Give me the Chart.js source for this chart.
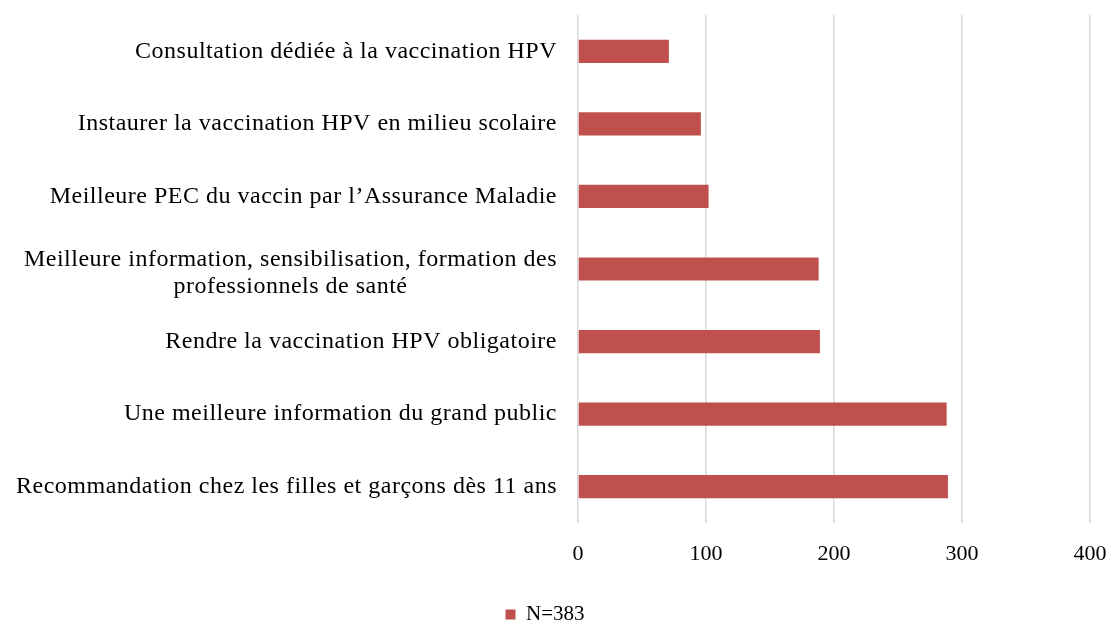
<!DOCTYPE html>
<html>
<head>
<meta charset="utf-8">
<script src="https://cdn.jsdelivr.net/npm/chart.js@4/dist/chart.umd.min.js"></script>
<style>
  html, body { margin: 0; padding: 0; background: #fff; }
  #wrap { width: 1113px; height: 626px; }
</style>
</head>
<body>
<div id="wrap"><canvas id="chart"></canvas></div>
<script>
// categories, top to bottom
const categories = [
    ['Consultation dédiée à la vaccination HPV'],
    ['Instaurer la vaccination HPV en milieu scolaire'],
    ['Meilleure PEC du vaccin par l\u2019Assurance Maladie'],
    ['Meilleure information, sensibilisation, formation des', 'professionnels de santé'],
    ['Rendre la vaccination HPV obligatoire'],
    ['Une meilleure information du grand public'],
    ['Recommandation chez les filles et garçons dès 11 ans']
];
const values = [71, 96, 102, 188, 189, 288, 289];
const seriesName = 'N=383';
const xTicks = [0, 100, 200, 300, 400];

const FONT = "'Liberation Serif', serif";
const barColor = '#C0504D';

// draws the category labels with centred lines, right edge next to the plot
const labelPlugin = {
    id: 'catLabels',
    afterDraw(chart) {
        const ctx = chart.ctx;
        const y = chart.scales.y;
        const right = chart.chartArea.left - 21;
        const lh = 27;
        ctx.save();
        ctx.font = '24px ' + FONT;
        ctx.letterSpacing = '0.5px';
        ctx.fillStyle = '#000';
        ctx.textAlign = 'center';
        ctx.textBaseline = 'middle';
        categories.forEach((lines, i) => {
            const cy = y.getPixelForValue(i);
            const w = Math.max(...lines.map(l => ctx.measureText(l).width));
            const cx = right - w / 2;
            const y0 = cy - (lines.length - 1) * lh / 2 + (lines.length > 1 ? 4 : 0);
            lines.forEach((l, j) => ctx.fillText(l, cx, y0 + j * lh));
        });
        ctx.restore();
    }
};

new Chart(document.getElementById('chart'), {
    type: 'bar',
    data: {
        labels: categories,
        datasets: [{
            label: seriesName,
            data: values,
            backgroundColor: barColor,
            borderWidth: 0,
            categoryPercentage: 1,
            barPercentage: 0.32
        }]
    },
    options: {
        indexAxis: 'y',
        responsive: true,
        maintainAspectRatio: false,
        animation: false,
        layout: { padding: { top: 15, right: 23, bottom: -9, left: 0 } },
        scales: {
            x: {
                min: 0,
                max: 400,
                afterBuildTicks: s => { s.ticks = xTicks.map(v => ({ value: v })); },
                grid: { color: '#d9d9d9', lineWidth: 1.5, drawTicks: true, tickLength: 16, tickColor: 'rgba(0,0,0,0)' },
                border: { display: false },
                ticks: { color: '#000', font: { family: FONT, size: 22 }, padding: 2 },
                afterFit: s => { s.height = 79; }
            },
            y: {
                grid: { display: false },
                border: { display: false },
                ticks: { display: false },
                afterFit: s => { s.width = 578; }
            }
        },
        plugins: {
            legend: {
                position: 'bottom',
                labels: {
                    color: '#000',
                    font: { family: FONT, size: 21 },
                    boxWidth: 10,
                    boxHeight: 10,
                    padding: 2
                }
            },
            tooltip: { enabled: false }
        }
    },
    plugins: [labelPlugin]
});
</script>
</body>
</html>
